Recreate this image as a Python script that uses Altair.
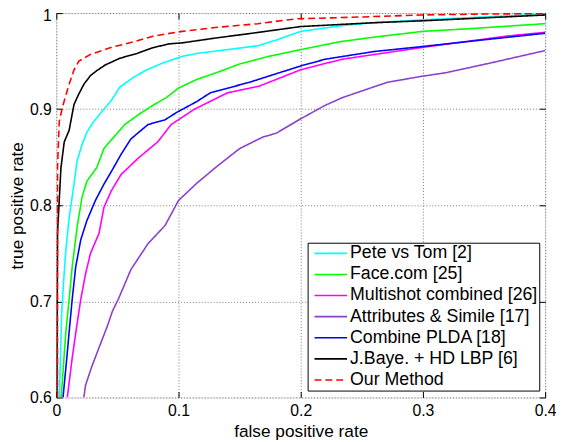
import altair as alt
import pandas as pd

series_names = [
    "Pete vs Tom [2]",
    "Face.com [25]",
    "Multishot combined [26]",
    "Attributes & Simile [17]",
    "Combine PLDA [18]",
    "J.Baye. + HD LBP [6]",
    "Our Method",
]
series_colors = ["#00FFFF", "#00FF00", "#FF00FF", "#8A42CC", "#0000FF", "#000000", "#FF0000"]
series_dashes = [[1, 0], [1, 0], [1, 0], [1, 0], [1, 0], [1, 0], [7, 4]]

pete_x = [0.0025, 0.0032, 0.0043, 0.0059, 0.0078, 0.0105, 0.0145, 0.017, 0.021, 0.025, 0.03, 0.037,
          0.045, 0.052, 0.063, 0.074, 0.087, 0.103, 0.115, 0.14, 0.165, 0.18, 0.2, 0.234, 0.26, 0.3,
          0.35, 0.4]
pete_y = [0.6, 0.634, 0.685, 0.719, 0.753, 0.787, 0.822, 0.846, 0.863, 0.876, 0.886, 0.897,
          0.909, 0.923, 0.933, 0.941, 0.948, 0.955, 0.958, 0.962, 0.966, 0.972, 0.981, 0.987, 0.99,
          0.993, 0.996, 0.999]

face_x = [0.004, 0.0059, 0.0078, 0.0105, 0.013, 0.017, 0.021, 0.025, 0.033, 0.039, 0.045, 0.056,
          0.068, 0.079, 0.09, 0.1, 0.115, 0.131, 0.15, 0.174, 0.2, 0.231, 0.26, 0.3, 0.341, 0.4]
face_y = [0.6, 0.634, 0.668, 0.702, 0.736, 0.777, 0.808, 0.825, 0.839, 0.859, 0.868, 0.884,
          0.895, 0.904, 0.912, 0.922, 0.931, 0.938, 0.947, 0.955, 0.962, 0.970, 0.975, 0.981, 0.984,
          0.989]

multi_x = [0.009, 0.013, 0.016, 0.02, 0.024, 0.028, 0.035, 0.039, 0.045, 0.053, 0.067, 0.083,
           0.094, 0.113, 0.14, 0.166, 0.2, 0.212, 0.234, 0.298, 0.368, 0.4]
multi_y = [0.6, 0.641, 0.668, 0.702, 0.729, 0.75, 0.771, 0.798, 0.815, 0.832, 0.849, 0.866,
           0.884, 0.9, 0.917, 0.924, 0.941, 0.945, 0.952, 0.964, 0.976, 0.98]

attr_x = [0.0225, 0.024, 0.029, 0.035, 0.042, 0.046, 0.051, 0.061, 0.075, 0.089, 0.1, 0.115,
          0.131, 0.15, 0.169, 0.18, 0.2, 0.22, 0.234, 0.25, 0.271, 0.298, 0.319, 0.355, 0.4]
attr_y = [0.6, 0.613, 0.632, 0.652, 0.675, 0.69, 0.703, 0.733, 0.76, 0.779, 0.805, 0.823,
          0.84, 0.859, 0.871, 0.875, 0.89, 0.904, 0.912, 0.919, 0.928, 0.934, 0.938, 0.948, 0.961]

plda_x = [0.0055, 0.0086, 0.0105, 0.013, 0.0159, 0.02, 0.025, 0.032, 0.039, 0.045, 0.053, 0.061,
          0.075, 0.089, 0.099, 0.115, 0.126, 0.158, 0.2, 0.22, 0.26, 0.298, 0.341, 0.4]
plda_y = [0.6, 0.641, 0.668, 0.702, 0.736, 0.764, 0.784, 0.805, 0.822, 0.835, 0.853, 0.869,
          0.884, 0.889, 0.897, 0.908, 0.917, 0.928, 0.945, 0.952, 0.96, 0.965, 0.971, 0.979]

jbaye_x = [0.0005, 0.001, 0.0024, 0.0038, 0.0065, 0.0105, 0.0145, 0.0185, 0.0226, 0.028, 0.033,
           0.04, 0.052, 0.066, 0.079, 0.0925, 0.103, 0.13, 0.16, 0.2, 0.26, 0.3, 0.35, 0.4]
jbaye_y = [0.6, 0.771, 0.805, 0.839, 0.866, 0.878, 0.905, 0.916, 0.926, 0.935, 0.94,
           0.946, 0.953, 0.958, 0.964, 0.968, 0.969, 0.974, 0.979, 0.986, 0.99, 0.992, 0.995, 0.998]

ours_x = [0.001, 0.001, 0.0024, 0.0038, 0.005, 0.0105, 0.0145, 0.0185, 0.028, 0.044, 0.063, 0.079,
          0.103, 0.13, 0.165, 0.196, 0.25, 0.298, 0.35, 0.4]
ours_y = [0.6, 0.839, 0.887, 0.895, 0.902, 0.926, 0.941, 0.95, 0.957, 0.964, 0.97, 0.976,
          0.981, 0.985, 0.989, 0.994, 0.996, 0.998, 0.999, 0.9995]

x_ticks = [0, 0.1, 0.2, 0.3, 0.4]
y_ticks = [0.6, 0.7, 0.8, 0.9, 1.0]

all_series = [(pete_x, pete_y), (face_x, face_y), (multi_x, multi_y), (attr_x, attr_y),
              (plda_x, plda_y), (jbaye_x, jbaye_y), (ours_x, ours_y)]
rows = []
for name, (xs, ys) in zip(series_names, all_series):
    for i, (xv, yv) in enumerate(zip(xs, ys)):
        rows.append({"method": name, "fpr": xv, "tpr": yv, "idx": i})
df = pd.DataFrame(rows)

FONT = "Liberation Sans"

xscale = alt.Scale(domain=[0, 0.4], nice=False, zero=False)
yscale = alt.Scale(domain=[0.6, 1.0], nice=False, zero=False)

legend = alt.Legend(
    orient="none", legendX=255, legendY=233, title=None,
    symbolType="M-0.76,0H5.84", symbolSize=100, symbolStrokeWidth=1.6,
    labelFontSize=18, labelFont=FONT, labelColor="black", labelLimit=400,
    padding=1.8, rowPadding=3.4, labelOffset=23.2,
    fillColor="white", strokeColor="black",
)

lines = alt.Chart(df).mark_line(strokeWidth=1.6, clip=True).encode(
    x=alt.X("fpr:Q", scale=xscale, axis=alt.Axis(
        orient="bottom", values=x_ticks, format="~g", offset=-6, tickSize=6,
        tickColor="black", tickWidth=1, domain=False, grid=True, gridDash=[1, 2],
        gridColor="#7a7a7a", gridWidth=1, labelFlush=False, labelPadding=5,
        labelFontSize=16, labelFont=FONT, labelColor="black",
        title="false positive rate", titleFontSize=17.5, titleFont=FONT,
        titleFontWeight="normal", titleColor="black", titlePadding=5)),
    y=alt.Y("tpr:Q", scale=yscale, axis=alt.Axis(
        orient="left", values=y_ticks, format="~g", offset=-6, tickSize=6,
        tickColor="black", tickWidth=1, domain=False, grid=True, gridDash=[1, 2],
        gridColor="#7a7a7a", gridWidth=1, labelFlush=False, labelPadding=5,
        labelOffset={"condition": {"test": "datum.value >= 1", "value": 3}, "value": 0},
        labelFontSize=16, labelFont=FONT, labelColor="black",
        title="true positive rate", titleFontSize=17.5, titleFont=FONT,
        titleFontWeight="normal", titleColor="black", titlePadding=3)),
    color=alt.Color("method:N", scale=alt.Scale(domain=series_names, range=series_colors),
                    legend=legend, sort=series_names),
    strokeDash=alt.StrokeDash("method:N", scale=alt.Scale(domain=series_names, range=series_dashes),
                              legend=legend, sort=series_names),
    order="idx:Q",
)

frame_ticks = alt.Chart(df).mark_line(opacity=0, clip=True).encode(
    x=alt.X("fpr:Q", scale=xscale, axis=alt.Axis(
        orient="top", values=x_ticks, offset=-6, tickSize=6, tickColor="black", tickWidth=1,
        domain=False, grid=False, labels=False, title=None)),
    y=alt.Y("tpr:Q", scale=yscale, axis=alt.Axis(
        orient="right", values=y_ticks, offset=-6, tickSize=6, tickColor="black", tickWidth=1,
        domain=False, grid=False, labels=False, title=None)),
    detail="method:N",
    order="idx:Q",
)

chart = alt.layer(lines, frame_ticks).resolve_axis(x="independent", y="independent").properties(
    width=496, height=390,
    autosize=alt.AutoSizeParams(type="none"),
    padding={"left": 49, "top": 2, "right": 11, "bottom": 42},
).configure_view(stroke="black", strokeWidth=2).configure_legend(
    strokeWidth=1.5
).configure(background="white")

chart.save("out.html", embed_options={"renderer": "svg", "actions": False})
